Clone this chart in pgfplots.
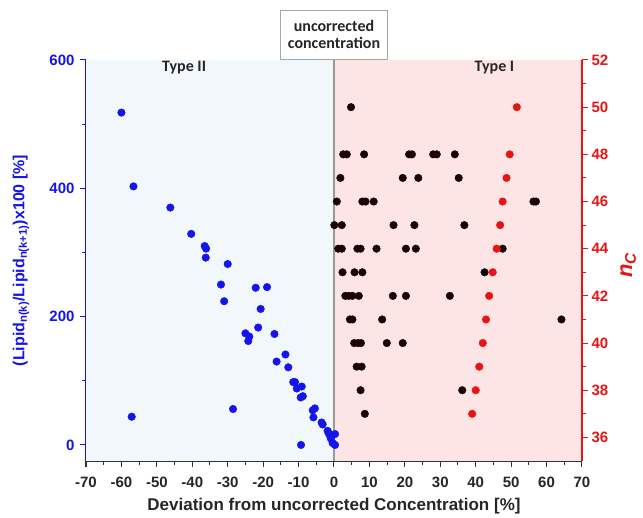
\documentclass[border=0pt]{standalone}
\usepackage{fontspec}
\setmainfont{Liberation Sans}
\newfontfamily\carl{Carlito}
\usepackage{pgfplots}
\pgfplotsset{compat=1.18}
\definecolor{myblue}{RGB}{20,20,235}
\definecolor{myred}{RGB}{232,20,20}
\definecolor{bgblue}{RGB}{242,247,252}
\definecolor{bgred}{RGB}{253,229,229}
\definecolor{dotblack}{RGB}{25,5,5}
\begin{document}
\begin{tikzpicture}
\useasboundingbox (0,0) rectangle (643pt,518pt);
\begin{axis}[
  at={(86pt,57pt)}, anchor=south west,
  scale only axis, width=496pt, height=401pt,
  xmin=-70, xmax=70, ymin=-25, ymax=600,
  clip=false,
  axis x line*=bottom, axis y line*=left,
  xtick={-70,-60,...,70}, minor x tick num=1,
  ytick={0,200,400,600}, minor y tick num=1,
  tick align=outside,
  major tick length=6pt, minor tick length=4pt,
  every tick/.style={line width=1pt},
  x axis line style={black!80, line width=1.2pt},
  xtick style={black!80},
  y axis line style={myblue, line width=1.2pt},
  ytick style={myblue},
  /pgf/number format/assume math mode=true,
  xticklabel style={font=\fontsize{15}{17}\selectfont\bfseries, text=black!85, yshift=-6pt},
  yticklabel style={font=\fontsize{15}{17}\selectfont\bfseries, text=myblue, xshift=-2pt},
  xlabel={Deviation from uncorrected Concentration [\%]},
  xlabel style={font=\fontsize{17}{19}\selectfont\bfseries, text=black!85, at={(axis description cs:0.5,-0.112)}, anchor=center},
  ylabel={(Lipid\textsubscript{n(k)}/Lipid\textsubscript{n(k+1)})x100 [\%]},
  ylabel style={font=\fontsize{16}{18}\selectfont\bfseries, text=myblue, at={(axis description cs:-0.131,0.5)}, anchor=center},
]
\addplot[fill=bgblue, draw=none] coordinates {(-70,-25) (0,-25) (0,600) (-70,600)} -- cycle;
\addplot[fill=bgred, draw=none] coordinates {(0,-25) (70,-25) (70,600) (0,600)} -- cycle;
\addplot[gray!80, line width=1.5pt] coordinates {(0,-25) (0,600)};
\addplot[only marks, mark=*, mark size=3.8pt, mark options={draw=myblue, fill=myblue}] coordinates {
(-60,518) (-56.6,403) (-46.2,370) (-40.3,329) (-36.5,310) (-36.1,306) (-36.2,292)
(-30.0,282) (-31.9,250) (-31.0,224) (-22.1,245) (-18.9,246) (-20.7,212) (-21.4,183)
(-25.0,174) (-23.9,169) (-24.2,162) (-16.8,173) (-13.7,141) (-16.2,130) (-12.9,121)
(-11.5,98) (-11.0,98) (-10.5,88) (-9.1,91) (-9.4,74) (-8.8,76) (-28.5,56) (-57.1,44)
(-9.3,0) (-6.0,54) (-5.4,57) (-5.8,43) (-3.5,35) (-3.2,32) (-1.8,22) (-1.5,18)
(-1.1,14) (-0.9,10) (-0.4,3) (0.3,17) (0.3,0)
};
\node[font=\carl\fontsize{16}{18}\selectfont\bfseries, text=black!85] at (axis cs:-42.3,588) {Type II};
\node[font=\carl\fontsize{16}{18}\selectfont\bfseries, text=black!85] at (axis cs:45.3,588) {Type I};
\node[anchor=south, draw=gray!70, line width=1.2pt, fill=white, align=center,
      font=\carl\fontsize{16}{17}\selectfont\bfseries, text=black!85,
      minimum width=107pt, minimum height=49pt, inner sep=2pt] at (axis cs:0,600)
      {uncorrected\\concentration};
\end{axis}
\begin{axis}[
  at={(86pt,57pt)}, anchor=south west,
  scale only axis, width=496pt, height=401pt,
  xmin=-70, xmax=70, ymin=35, ymax=52,
  axis x line=none, axis y line*=right,
  ytick={36,38,...,52}, minor y tick num=1,
  tick align=outside,
  major tick length=6pt, minor tick length=4pt,
  every tick/.style={line width=1pt},
  y axis line style={myred, line width=1.2pt},
  ytick style={myred},
  /pgf/number format/assume math mode=true,
  yticklabel style={font=\fontsize{15}{17}\selectfont\bfseries, text=myred},
  ylabel={\textit{n}\textsubscript{\textit{C}}},
  ylabel style={font=\fontsize{22}{24}\selectfont\bfseries, text=myred, at={(axis description cs:1.093,0.489)}, anchor=center},
]
\addplot[only marks, mark=*, mark size=3.8pt, mark options={draw=dotblack, fill=dotblack}] coordinates {
(4.8,50)
(2.6,48) (3.6,48) (8.5,48) (21.2,48) (22.0,48) (28.0,48) (29.0,48) (34.1,48)
(1.8,47) (19.4,47) (23.8,47) (35.2,47)
(0.8,46) (8.0,46) (8.9,46) (11.2,46) (56.3,46) (57.0,46)
(0.1,45) (2.2,45) (16.8,45) (22.7,45) (36.8,45)
(1.2,44) (2.2,44) (6.6,44) (7.5,44) (12.0,44) (20.3,44) (23.1,44) (47.6,44)
(2.4,43) (5.8,43) (8.0,43) (42.5,43)
(3.2,42) (4.2,42) (5.2,42) (7.0,42) (16.6,42) (20.3,42) (32.7,42)
(4.5,41) (5.2,41) (13.6,41) (64.2,41)
(5.7,40) (6.8,40) (7.6,40) (14.9,40) (19.4,40)
(6.4,39) (7.8,39)
(7.5,38) (36.2,38)
(8.7,37)
};
\addplot[only marks, mark=*, mark size=3.8pt, mark options={draw=myred, fill=myred}] coordinates {
(51.6,50) (49.6,48) (48.7,47) (47.6,46) (46.9,45) (45.9,44) (44.8,43) (43.8,42)
(42.9,41) (42.0,40) (41.0,39) (40.0,38) (39.0,37)
};
\end{axis}
\end{tikzpicture}
\end{document}
